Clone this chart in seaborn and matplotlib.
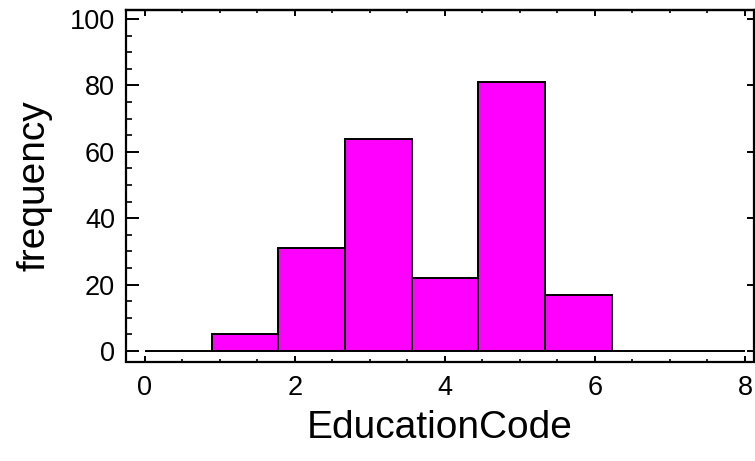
import numpy as np
import matplotlib
matplotlib.use("Agg")
import matplotlib.pyplot as plt
import seaborn as sns
from matplotlib.ticker import MultipleLocator

# Data: histogram of EducationCode, 9 equal bins from 0 to 8
bin_edges = list(np.linspace(0, 8, 10))
bin_counts = [0, 5, 31, 64, 22, 81, 17, 0, 0]
bin_centers = [(bin_edges[i] + bin_edges[i + 1]) / 2 for i in range(len(bin_counts))]
x_ticks = [0, 2, 4, 6, 8]
y_ticks = [0, 20, 40, 60, 80, 100]

sns.set_style("ticks")
plt.rcParams['font.family'] = ['Liberation Sans', 'DejaVu Sans']
plt.rcParams['text.color'] = 'black'
plt.rcParams['axes.labelcolor'] = 'black'
plt.rcParams['xtick.color'] = 'black'
plt.rcParams['ytick.color'] = 'black'

fig = plt.figure(figsize=(7.55, 4.61), dpi=100)
W, H = 755, 461
L, R, T, B = 126, 754, 10, 361.5
ax = fig.add_axes([L / W, (H - B) / H, (R - L) / W, (B - T) / H])

sns.histplot(x=bin_centers, weights=bin_counts, bins=bin_edges,
             color='#FF00FF', alpha=1, edgecolor='black', linewidth=1.4, ax=ax)

ax.set_xlim(-0.253, 8.12)
ax.set_ylim(-3.16, 102.7)
ax.set_xticks(x_ticks)
ax.set_yticks(y_ticks)
ax.xaxis.set_minor_locator(MultipleLocator(0.5))
ax.yaxis.set_minor_locator(MultipleLocator(5))

for s in ax.spines.values():
    s.set_visible(True)
    s.set_linewidth(1.6)
    s.set_color('black')

ax.tick_params(axis='x', which='major', direction='in', length=4, width=1.4,
               labelsize=19.5, pad=9.5, labelcolor='black', top=False)
ax.tick_params(axis='x', which='minor', direction='in', length=2.5, width=1.2, top=False)
ax.tick_params(axis='y', which='major', direction='in', length=9, width=1.4,
               labelsize=19.5, pad=8, labelcolor='black', right=False)
ax.tick_params(axis='y', which='minor', direction='in', length=4.5, width=1.2, right=False)

# top and right ticks
secx = ax.secondary_xaxis('top')
secx.set_xticks(x_ticks)
secx.xaxis.set_minor_locator(MultipleLocator(0.5))
secx.tick_params(which='major', direction='in', length=4, width=1.4, labeltop=False)
secx.tick_params(which='minor', direction='in', length=2.5, width=1.2)
secx.spines['top'].set_linewidth(1.6)
secy = ax.secondary_yaxis('right')
secy.set_yticks(y_ticks)
secy.tick_params(which='major', direction='in', length=5, width=1.4, labelright=False)
secy.tick_params(which='minor', length=0)

ax.set_xlabel('EducationCode', fontsize=28, labelpad=7, color='black')
ax.set_ylabel('frequency', fontsize=28, labelpad=12, color='black')

fig.savefig('out.png', dpi=100)
